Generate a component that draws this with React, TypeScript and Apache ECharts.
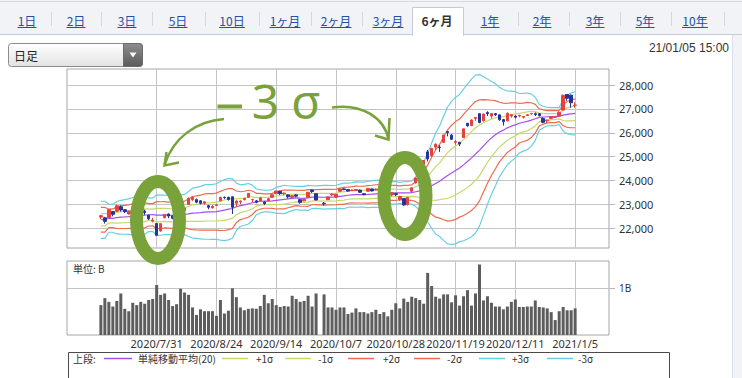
import { useEffect, useRef } from "react";
import * as echarts from "echarts";

// ---- categories (trading days) ----
const tradingDays: [string, number[]][] = [
  ["2020/6", [29, 30]],
  ["2020/7", [1, 2, 3, 6, 7, 8, 9, 10, 13, 14, 15, 16, 17, 20, 21, 22, 27, 28, 29, 30, 31]],
  ["2020/8", [3, 4, 5, 6, 7, 11, 12, 13, 14, 17, 18, 19, 20, 21, 24, 25, 26, 27, 28, 31]],
  ["2020/9", [1, 2, 3, 4, 7, 8, 9, 10, 11, 14, 15, 16, 17, 18, 23, 24, 25, 28, 29, 30]],
  ["2020/10", [1, 2, 5, 6, 7, 8, 9, 12, 13, 14, 15, 16, 19, 20, 21, 22, 23, 26, 27, 28, 29, 30]],
  ["2020/11", [2, 4, 5, 6, 9, 10, 11, 12, 13, 16, 17, 18, 19, 20, 24, 25, 26, 27, 30]],
  ["2020/12", [1, 2, 3, 4, 7, 8, 9, 10, 11, 14, 15, 16, 17, 18, 21, 22, 23, 24, 25, 28, 29, 30]],
  ["2021/1", [4, 5, 6, 7, 8, 12, 13, 14, 15, 18]],
];
const categories = tradingDays.flatMap(([m, ds]) => ds.map((d) => `${m}/${d}`));
const dataStart = "2020/7/9";
const labelDates = ["2020/7/31", "2020/8/24", "2020/9/14", "2020/10/7", "2020/10/28", "2020/11/19", "2020/12/11", "2021/1/5"];
const priceTicks = [22000, 23000, 24000, 25000, 26000, 27000, 28000];
const volumeTicks = [1];

// closes of the 19 sessions before the first candle (for the 20-day band)
const preCloses = [22305, 21530, 22582, 22455, 22355, 22479, 22437, 22549, 22534, 22260, 22512, 21995, 22288, 22122, 22146, 22306, 22714, 22614, 22438];

// from 2020/7/9 to 2021/1/5 (null = 2020/10/1, no trading)
const opens = [
  22470, 22440, 22450, 22700, 22710, 22900, 22780, 22600, 22850, 22800, 22700, 22720, 22550, 22300, 22200,
  21890, 22440, 22600, 22520, 22400, 22500, 22750, 23000, 23200, 23200, 23150, 23050, 22950, 22850, 22960, 23150, 23300, 23300, 23320, 23050,
  23100, 23200, 23300, 23200, 23150, 23150, 23100, 23150, 23300, 23450, 23550, 23450, 23400, 23300, 23400, 23200, 23150, 23300, 23600, 23450,
  null, 23050, 23200, 23400, 23300, 23550, 23650, 23620, 23580, 23580, 23600, 23450, 23550, 23650, 23600, 23500, 23500, 23520, 23400, 23450, 23200, 23250,
  23000, 23550, 23900, 24300, 24600, 25200, 25050, 25400, 25400, 25600, 26050, 25900, 25600, 25600, 25800, 26400, 26300, 26600, 26800,
  26500, 26850, 26700, 26800, 26750, 26550, 26500, 26700, 26700, 26700, 26650, 26720, 26800, 26800, 26800, 26600, 26500, 26600, 26650, 26700, 26950, 27600,
  27575, 27150,
];
const highs = [
  22563, 22480, 22800, 22720, 22990, 22960, 22790, 22740, 22950, 22850, 22770, 22780, 22570, 22440, 22220,
  22200, 22600, 22620, 22550, 22430, 22780, 22900, 23300, 23338, 23250, 23180, 23130, 22980, 22980, 23020, 23320, 23330, 23320, 23340, 23180,
  23170, 23280, 23480, 23240, 23190, 23300, 23130, 23280, 23420, 23580, 23570, 23500, 23420, 23380, 23420, 23230, 23220, 23520, 23620, 23460,
  null, 23100, 23320, 23450, 23450, 23660, 23680, 23640, 23620, 23640, 23620, 23460, 23680, 23660, 23660, 23520, 23540, 23560, 23500, 23460, 23360, 23260,
  23300, 23710, 24120, 24330, 24840, 25280, 25360, 25560, 25480, 25910, 26060, 25950, 25690, 25620, 26170, 26400, 26560, 26660, 26800,
  26800, 26900, 26820, 26830, 26760, 26580, 26850, 26770, 26720, 26750, 26700, 26770, 26830, 26850, 26820, 26650, 26550, 26700, 26700, 26900, 27600, 27600,
  27600, 27280,
];
const lows = [
  22386, 22200, 22440, 22500, 22690, 22700, 22640, 22580, 22800, 22670, 22600, 22560, 22350, 22250, 21710,
  21860, 22430, 22420, 22380, 22250, 22480, 22700, 22990, 23150, 23050, 23000, 22990, 22800, 22840, 22940, 23140, 23230, 23160, 22600, 22900,
  23010, 23170, 23290, 23100, 23050, 23140, 22980, 23140, 23290, 23430, 23400, 23380, 23250, 23250, 23300, 23030, 23130, 23290, 23480, 23170,
  null, 22950, 23180, 23350, 23290, 23540, 23600, 23540, 23560, 23560, 23480, 23380, 23540, 23540, 23590, 23420, 23480, 23470, 23350, 23350, 23150, 22950,
  22950, 23500, 23880, 24050, 24550, 24800, 25000, 25300, 25200, 25570, 25850, 25700, 25500, 25440, 25790, 26250, 26280, 26500, 26400,
  26480, 26700, 26600, 26700, 26500, 26300, 26480, 26630, 26600, 26650, 26600, 26700, 26750, 26700, 26700, 26400, 26400, 26580, 26630, 26690, 26940, 27340,
  27050, 27050,
];
const closes = [
  22529, 22291, 22784, 22587, 22945, 22770, 22696, 22717, 22884, 22751, 22715, 22657, 22397, 22339, 21710,
  22195, 22573, 22514, 22418, 22329, 22750, 22843, 23249, 23289, 23096, 23051, 23110, 22880, 22920, 22985, 23296, 23290, 23208, 22882, 23139,
  23138, 23247, 23465, 23205, 23089, 23274, 23032, 23235, 23406, 23559, 23454, 23475, 23319, 23360, 23346, 23087, 23204, 23511, 23539, 23185,
  null, 23029, 23312, 23433, 23422, 23647, 23619, 23558, 23601, 23626, 23507, 23410, 23671, 23567, 23639, 23474, 23516, 23494, 23485, 23418, 23331, 22977,
  23295, 23695, 24105, 24325, 24839, 24905, 25349, 25520, 25385, 25906, 26014, 25728, 25634, 25527, 26165, 26296, 26537, 26644, 26433,
  26787, 26800, 26809, 26751, 26547, 26467, 26817, 26756, 26652, 26732, 26687, 26757, 26806, 26763, 26714, 26436, 26524, 26668, 26656, 26854, 27568, 27444,
  27258, 27158,
];
// volume in billions of shares
const volumes = [
  0.64, 0.79, 0.71, 0.61, 0.73, 0.89, 0.56, 0.51, 0.69, 0.64, 0.71, 0.67, 0.75, 0.77, 1.07,
  0.86, 0.89, 0.75, 0.62, 0.66, 0.99, 0.91, 0.86, 0.59, 0.43, 0.55, 0.51, 0.51, 0.51, 0.41, 0.75, 0.46, 0.52, 1.0, 0.81,
  0.59, 0.53, 0.56, 0.57, 0.56, 0.62, 0.86, 0.68, 0.77, 0.64, 0.6, 0.62, 0.61, 0.84, 0.77, 0.71, 0.73, 0.84, 0.61, 0.89,
  null, 0.87, 0.59, 0.59, 0.54, 0.59, 0.59, 0.45, 0.48, 0.57, 0.49, 0.49, 0.46, 0.49, 0.54, 0.45, 0.49, 0.4, 0.54, 0.68, 0.57, 0.78,
  0.71, 0.82, 0.79, 0.75, 0.67, 1.33, 1.05, 0.82, 0.78, 0.87, 0.87, 0.7, 0.85, 0.63, 0.83, 0.96, 0.63, 0.89, 1.51,
  0.74, 0.83, 0.69, 0.61, 0.61, 0.55, 0.61, 0.71, 0.76, 0.6, 0.6, 0.61, 0.61, 0.74, 0.6, 0.59, 0.57, 0.49, 0.32, 0.51, 0.6, 0.53,
  0.53, 0.57,
];

const RED = "#e8403a";
const BLUE = "#23349a";
const C_MA = "#a550e6";
const C_S1 = "#c6da6c";
const C_S2 = "#ef6b4e";
const C_S3 = "#66d0e2";
const GREEN = "#79a23b";
const FONT = "'Noto Sans', 'Noto Sans CJK JP', sans-serif";
const JFONT = "'Noto Sans CJK JP', 'Noto Sans', sans-serif";

function buildOption() {
  const startIdx = categories.indexOf(dataStart);
  const at = (i: number) => {
    const k = i - startIdx;
    return k >= 0 && k < closes.length ? k : -1;
  };
  const candleData = categories.map((_, i) => {
    const k = at(i);
    if (k < 0 || closes[k] == null) return "-";
    return [opens[k], closes[k], lows[k], highs[k]];
  });
  const volData = categories.map((_, i) => {
    const k = at(i);
    return k < 0 || volumes[k] == null ? "-" : volumes[k];
  });
  // Bollinger bands: 20-day mean and standard deviation of the closes
  const allCloses = [...preCloses, ...closes];
  const stats = categories.map((_, i) => {
    const k = at(i);
    if (k < 0 || closes[k] == null) return null;
    const win: number[] = [];
    for (let j = preCloses.length + k; j >= 0 && win.length < 20; j--) {
      const v = allCloses[j];
      if (v != null) win.push(v as number);
    }
    const m = win.reduce((a, b) => a + b, 0) / win.length;
    const sd = Math.sqrt(win.reduce((a, b) => a + (b - m) * (b - m), 0) / win.length);
    return { m, sd };
  });
  const band = (kk: number) => stats.map((s) => (s ? Math.round(s.m + kk * s.sd) : null));
  const labelIdx = new Set(labelDates.map((d) => categories.indexOf(d)));

  const vLines = {
    silent: true,
    symbol: "none",
    z: 1,
    label: { show: false },
    lineStyle: { color: "#c4c4c4", type: "solid", width: 1 },
    emphasis: { disabled: true },
    data: labelDates.map((d) => ({ xAxis: d })),
  };

  const lineSeries = (name: string, data: any[], color: string, withMark = false) => ({
    name,
    type: "line",
    xAxisIndex: 0,
    yAxisIndex: 0,
    data,
    showSymbol: false,
    connectNulls: true,
    lineStyle: { color, width: 1.2 },
    itemStyle: { color },
    z: 3,
    silent: true,
    ...(withMark ? { markLine: vLines } : {}),
  });

  // ---------- graphics ----------
  const g: any[] = [];
  // tab bar
  g.push({ type: "rect", shape: { x: 0, y: 0, width: 742, height: 35 }, style: { fill: "#f1f3f7" }, z: 0 });
  g.push({ type: "line", shape: { x1: 0, y1: 1.5, x2: 742, y2: 1.5 }, style: { stroke: "#d6d9df", lineWidth: 1 }, z: 1 });
  g.push({ type: "line", shape: { x1: 0, y1: 34.5, x2: 742, y2: 34.5 }, style: { stroke: "#c5cad4", lineWidth: 1 }, z: 1 });
  g.push({ type: "rect", shape: { x: 412.5, y: 7.5, width: 51, height: 28 }, style: { fill: "#ffffff", stroke: "#c5cad4", lineWidth: 1 }, z: 2 });
  g.push({ type: "rect", shape: { x: 413, y: 33.5, width: 50, height: 3 }, style: { fill: "#ffffff" }, z: 3 });
  const tabLabels = ["1日", "2日", "3日", "5日", "10日", "1ヶ月", "2ヶ月", "3ヶ月", "6ヶ月", "1年", "2年", "3年", "5年", "10年"];
  const tabX = [27, 76, 127, 178, 232, 285, 336, 388, 437, 490, 542, 595, 645, 695];
  const sepX = [51, 101, 152, 205, 259, 311, 362, 518, 569, 620, 671, 724];
  sepX.forEach((x) => g.push({ type: "line", shape: { x1: x + 0.5, y1: 12, x2: x + 0.5, y2: 26 }, style: { stroke: "#d3d7de", lineWidth: 1 }, z: 2 }));
  const tw = (s: string) => [...s].reduce((a, ch) => a + (/[0-9]/.test(ch) ? 6.9 : 12), 0);
  tabLabels.forEach((t, i) => {
    const sel = t === "6ヶ月";
    g.push({
      type: "text", x: tabX[i], y: 20, z: 4,
      style: { text: t, fill: sel ? "#333333" : "#2350a8", font: `${sel ? "bold " : ""}12px ${JFONT}`, align: "center", verticalAlign: "middle", textAlign: "center", textVerticalAlign: "middle" },
    });
    if (!sel) {
      const w = tw(t);
      g.push({ type: "line", shape: { x1: tabX[i] - w / 2, y1: 27.5, x2: tabX[i] + w / 2, y2: 27.5 }, style: { stroke: "#2350a8", lineWidth: 1 }, z: 4 });
    }
  });
  // right side panel edge
  g.push({ type: "rect", shape: { x: 733, y: 35, width: 9, height: 343 }, style: { fill: "#f1f3f7" }, z: 0 });
  g.push({ type: "line", shape: { x1: 732.5, y1: 35, x2: 732.5, y2: 378 }, style: { stroke: "#dde0e6", lineWidth: 1 }, z: 1 });
  // dropdown
  g.push({
    type: "rect", shape: { x: 8.5, y: 43.5, width: 134, height: 23, r: 3 }, z: 2,
    style: { fill: new echarts.graphic.LinearGradient(0, 0, 0, 1, [{ offset: 0, color: "#ffffff" }, { offset: 1, color: "#e2e2e2" }]), stroke: "#8c8c8c", lineWidth: 1 },
  });
  g.push({
    type: "rect", shape: { x: 123.5, y: 43.5, width: 19, height: 23, r: [0, 3, 3, 0] }, z: 3,
    style: { fill: new echarts.graphic.LinearGradient(0, 0, 0, 1, [{ offset: 0, color: "#8d8d8d" }, { offset: 1, color: "#5b5b5b" }]), stroke: "#6c6c6c", lineWidth: 1 },
  });
  g.push({ type: "polygon", shape: { points: [[129.5, 52.5], [136.5, 52.5], [133, 57.5]] }, style: { fill: "#ffffff" }, z: 4 });
  g.push({ type: "text", x: 14, y: 55.5, z: 4, style: { text: "日足", fill: "#222", font: `12px ${JFONT}`, align: "left", verticalAlign: "middle", textAlign: "left", textVerticalAlign: "middle" } });
  g.push({ type: "text", x: 729, y: 48, z: 4, style: { text: "21/01/05 15:00", fill: "#333", font: `12px 'Liberation Sans', Arial, sans-serif`, align: "right", verticalAlign: "middle", textAlign: "right", textVerticalAlign: "middle" } });
  // volume unit
  g.push({ type: "text", x: 73, y: 268, z: 10, style: { text: "単位: B", fill: "#333", font: `10px ${JFONT}`, align: "left", verticalAlign: "middle", textAlign: "left", textVerticalAlign: "middle" } });
  // legend box
  g.push({ type: "rect", shape: { x: 68.5, y: 352.5, width: 601, height: 40 }, style: { fill: "#ffffff", stroke: "#4a4a4a", lineWidth: 1 }, z: 2 });
  const ly = 358.5;
  const legText = (x: number, t: string) =>
    g.push({ type: "text", x, y: ly, z: 4, style: { text: t, fill: "#333", font: `10px ${JFONT}`, align: "left", verticalAlign: "middle", textAlign: "left", textVerticalAlign: "middle" } });
  const legLine = (x1: number, x2: number, c: string) =>
    g.push({ type: "line", shape: { x1, y1: ly, x2, y2: ly }, style: { stroke: c, lineWidth: 1.5 }, z: 4 });
  legText(73, "上段:");
  legLine(104, 132, C_MA); legText(138, "単純移動平均(20)");
  legLine(222, 248, C_S1); legText(256, "+1σ");
  legLine(285, 311, C_S1); legText(318, "-1σ");
  legLine(348, 374, C_S2); legText(383, "+2σ");
  legLine(414, 440, C_S2); legText(447, "-2σ");
  legLine(479, 505, C_S3); legText(512, "+3σ");
  legLine(547, 573, C_S3); legText(578, "-3σ");
  // annotations
  g.push({ type: "rect", shape: { x: 217.5, y: 104.5, width: 24.5, height: 4 }, style: { fill: GREEN }, z: 50 });
  g.push({ type: "text", x: 265.5, y: 100, z: 50, style: { text: "3", fill: GREEN, font: `48px ${FONT}`, align: "center", verticalAlign: "middle", textAlign: "center", textVerticalAlign: "middle" } });
  g.push({ type: "text", x: 306, y: 100, z: 50, style: { text: "σ", fill: GREEN, font: `48px ${FONT}`, align: "center", verticalAlign: "middle", textAlign: "center", textVerticalAlign: "middle" } });
  g.push({ type: "bezierCurve", shape: { x1: 224, y1: 119, cpx1: 196, cpy1: 121, cpx2: 173, cpy2: 138, x2: 164.5, y2: 165 }, style: { stroke: GREEN, lineWidth: 2.5, fill: null }, z: 50 });
  g.push({ type: "polyline", shape: { points: [[166.5, 152], [164.5, 165.5], [179, 162.5]] }, style: { stroke: GREEN, lineWidth: 2.5, fill: null }, z: 50 });
  g.push({ type: "bezierCurve", shape: { x1: 332, y1: 107.5, cpx1: 362, cpy1: 103, cpx2: 384, cpy2: 118, x2: 388.5, y2: 139 }, style: { stroke: GREEN, lineWidth: 2.5, fill: null }, z: 50 });
  g.push({ type: "polyline", shape: { points: [[375, 135.5], [388.5, 139.5], [389.5, 118]] }, style: { stroke: GREEN, lineWidth: 2.5, fill: null }, z: 50 });
  g.push({ type: "ellipse", shape: { cx: 158, cy: 220, rx: 21.5, ry: 38.5 }, style: { fill: null, stroke: GREEN, lineWidth: 13 }, z: 50 });
  g.push({ type: "ellipse", shape: { cx: 405, cy: 196, rx: 21, ry: 38.5 }, style: { fill: null, stroke: GREEN, lineWidth: 13 }, z: 50 });

  return {
    animation: false,
    backgroundColor: "#ffffff",
    textStyle: { fontFamily: FONT },
    grid: [
      { left: 67, top: 69, width: 542, height: 179, show: true, borderColor: "#a6a6a6", borderWidth: 1, backgroundColor: "#ffffff" },
      { left: 67, top: 261, width: 542, height: 74, show: true, borderColor: "#a6a6a6", borderWidth: 1, backgroundColor: "#ffffff" },
    ],
    xAxis: [
      {
        type: "category", gridIndex: 0, data: categories, boundaryGap: true,
        axisLine: { show: false }, axisTick: { show: false }, axisLabel: { show: false }, splitLine: { show: false },
      },
      {
        type: "category", gridIndex: 1, data: categories, boundaryGap: true,
        axisLine: { show: false }, axisTick: { show: false }, splitLine: { show: false },
        axisLabel: { interval: (i: number) => labelIdx.has(i), fontSize: 11, color: "#333", margin: 3, fontFamily: FONT, hideOverlap: false },
      },
    ],
    yAxis: [
      {
        type: "value", gridIndex: 0, position: "right", min: 21176, max: 28670, scale: true,
        axisLine: { show: false },
        axisTick: { show: true, length: 6, customValues: priceTicks, lineStyle: { color: "#b8b8b8" } },
        axisLabel: { customValues: priceTicks, margin: 10, fontSize: 11, color: "#333", fontFamily: FONT, formatter: (v: number) => v.toLocaleString("en-US") },
        splitLine: { show: true, lineStyle: { color: "#c4c4c4", width: 1 } },
      },
      {
        type: "value", gridIndex: 1, position: "right", min: 0, max: 1.585,
        axisLine: { show: false },
        axisTick: { show: true, length: 6, customValues: volumeTicks, lineStyle: { color: "#b8b8b8" } },
        axisLabel: { customValues: volumeTicks, margin: 10, fontSize: 10, color: "#333", fontFamily: FONT, formatter: (v: number) => `${v}B` },
        splitLine: { show: true, lineStyle: { color: "#c4c4c4", width: 1 } },
      },
    ],
    series: [
      lineSeries("単純移動平均(20)", band(0), C_MA, true),
      lineSeries("+1σ", band(1), C_S1),
      lineSeries("-1σ", band(-1), C_S1),
      lineSeries("+2σ", band(2), C_S2),
      lineSeries("-2σ", band(-2), C_S2),
      lineSeries("+3σ", band(3), C_S3),
      lineSeries("-3σ", band(-3), C_S3),
      {
        name: "日足", type: "candlestick", xAxisIndex: 0, yAxisIndex: 0, data: candleData, barWidth: 3, z: 5, silent: true,
        itemStyle: { color: RED, color0: BLUE, borderColor: RED, borderColor0: BLUE, borderWidth: 1 },
      },
      {
        name: "出来高", type: "bar", xAxisIndex: 1, yAxisIndex: 1, data: volData, barWidth: 3, z: 3, silent: true,
        itemStyle: { color: "#5d5d5d" },
        markLine: vLines,
      },
    ],
    graphic: { elements: g },
  };
}

export default function App() {
  const ref = useRef<HTMLDivElement>(null);
  useEffect(() => {
    if (!ref.current) return;
    const chart = echarts.init(ref.current, null, { renderer: "svg", width: 742, height: 378 });
    chart.setOption(buildOption() as any);
    return () => chart.dispose();
  }, []);
  return <div ref={ref} style={{ position: "absolute", left: 0, top: 0, width: 742, height: 378, background: "#fff" }} />;
}
